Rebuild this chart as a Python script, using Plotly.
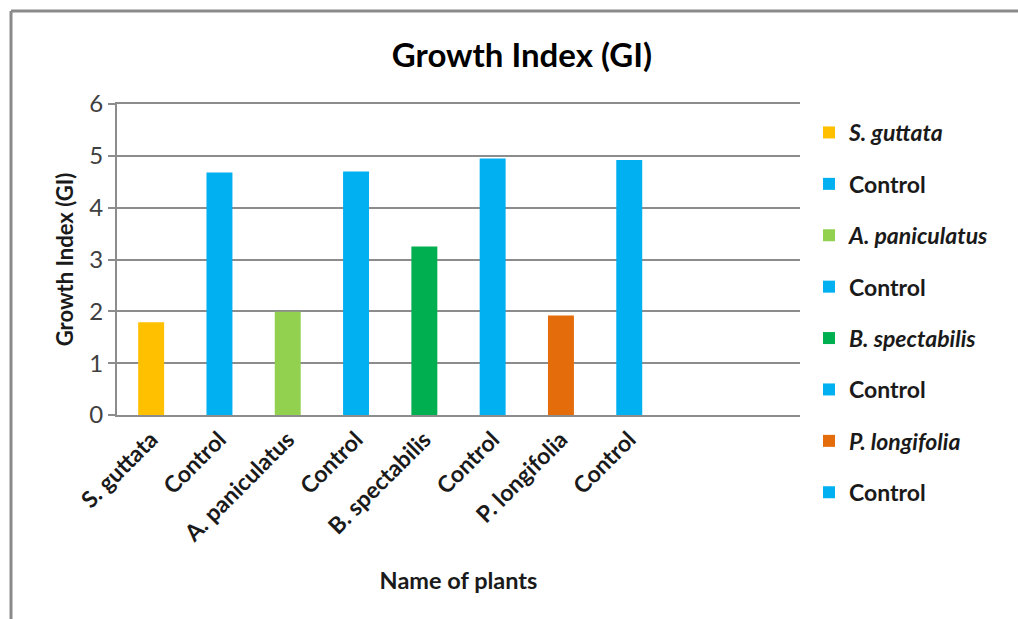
import plotly.graph_objects as go

# Growth index per plant, with the matching control beside each species
categories = ["S. guttata", "Control", "A. paniculatus", "Control",
              "B. spectabilis", "Control", "P. longifolia", "Control"]
legend_names = ["<i>S. guttata</i>", "Control", "<i>A. paniculatus</i>", "Control",
                "<i>B. spectabilis</i>", "Control", "<i>P. longifolia</i>", "Control"]
growth_index = [1.79, 4.68, 1.99, 4.70, 3.25, 4.95, 1.92, 4.92]
bar_colors = ["#FFC000", "#00B0F0", "#92D050", "#00B0F0",
              "#00B050", "#00B0F0", "#E46C0A", "#00B0F0"]

FONT = "Lato"
TEXT = "#1a1a1a"
GRID = "#8c8c8c"

fig = go.Figure()
for i, (name, val, col) in enumerate(zip(legend_names, growth_index, bar_colors)):
    fig.add_trace(go.Bar(
        x=[i], y=[val], name=name, width=0.38,
        marker=dict(color=col, line=dict(width=0)),
        legendgroup=f"g{i}",
    ))

# Plot area in pixels: x 117..800, y 104..415
W, H = 1018, 619
L, R, T, B = 117, 800, 104, 415
pw, ph = R - L, B - T

def px_x(x):
    return (x - L) / pw

def px_y(y):
    return (B - y) / ph

fig.update_layout(
    width=W, height=H,
    margin=dict(l=L, r=W - R, t=T, b=H - B),
    paper_bgcolor="white", plot_bgcolor="white",
    barmode="overlay",
    font=dict(family=FONT, color=TEXT),
    title=dict(text="<b>Growth Index (GI)</b>", x=522 / W, xanchor="center",
               y=1 - 55 / H, yanchor="middle",
               font=dict(size=33, family=FONT, color="#000000")),
    xaxis=dict(
        range=[-0.5, 9.5], tickmode="array",
        tickvals=list(range(len(categories))), ticktext=categories,
        tickangle=-45, tickfont=dict(size=23, family=FONT, color=TEXT, weight="bold"),
        showgrid=False, zeroline=False,
        showline=True, mirror=True, linecolor=GRID, linewidth=2,
        ticks="", fixedrange=True,
        title=dict(text="Name of plants", standoff=27,
                   font=dict(size=23.5, family=FONT, color=TEXT, weight="bold")),
    ),
    yaxis=dict(
        range=[0, 6], dtick=1, tick0=0,
        tickfont=dict(size=24, family=FONT, color="#404040"),
        showgrid=True, gridcolor=GRID, gridwidth=2,
        zeroline=False, showline=True, linecolor=GRID, linewidth=2,
        ticks="outside", ticklen=7, tickcolor=GRID, tickwidth=2,
        title=dict(text="Growth Index (GI)", standoff=10,
                   font=dict(size=22, family=FONT, color=TEXT, weight="bold")),
    ),
    legend=dict(
        x=px_x(809), xanchor="left", y=px_y(111), yanchor="top",
        font=dict(size=23, family=FONT, color=TEXT, weight="bold"),
        tracegroupgap=18.5, itemwidth=30, bgcolor="rgba(0,0,0,0)",
        maxheight=600,
    ),
    showlegend=True,
)

# Chart frame along the top and left edges
fig.add_shape(type="line", xref="paper", yref="paper",
              x0=px_x(11), x1=px_x(1030), y0=px_y(11), y1=px_y(11),
              line=dict(color="#8a8a8a", width=3))
fig.add_shape(type="line", xref="paper", yref="paper",
              x0=px_x(11), x1=px_x(11), y0=px_y(11), y1=px_y(630),
              line=dict(color="#8a8a8a", width=3))

fig.write_html("out.html")
